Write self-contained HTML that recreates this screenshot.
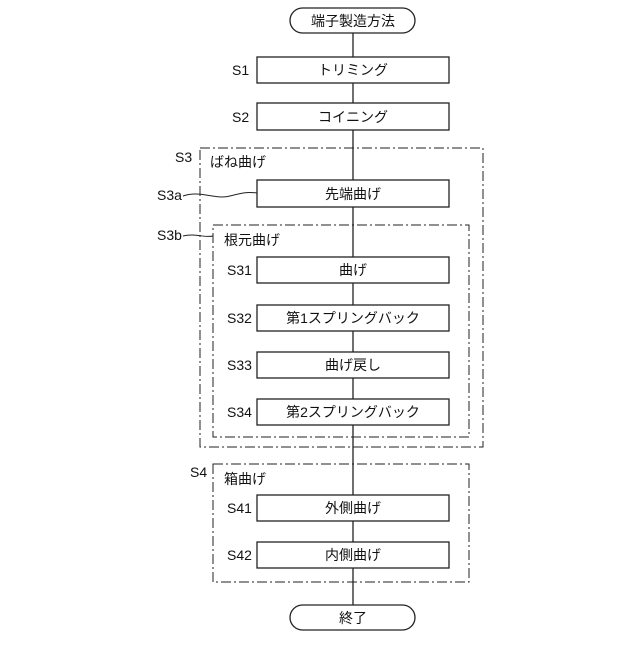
<!DOCTYPE html>
<html><head><meta charset="utf-8"><style>
body{margin:0;background:#fff}
svg text{font-family:"Liberation Sans","Noto Sans CJK JP",sans-serif;font-size:14px;fill:#111}
</style></head><body>
<svg width="640" height="640" viewBox="0 0 640 640" xmlns="http://www.w3.org/2000/svg">
<g stroke="#222" stroke-width="1.3" fill="none">
<line x1="353" y1="33" x2="353" y2="605"/>
<rect x="290" y="8" width="125" height="25" rx="12.5" fill="#fff"/>
<rect x="290" y="605" width="125" height="25" rx="12.5" fill="#fff"/>
<g fill="#fff">
<rect x="257" y="57" width="192" height="26"/>
<rect x="257" y="103" width="192" height="27"/>
<rect x="257" y="180" width="192" height="27"/>
<rect x="257" y="257" width="192" height="26"/>
<rect x="257" y="305" width="192" height="26"/>
<rect x="257" y="352" width="192" height="26"/>
<rect x="257" y="399" width="192" height="26"/>
<rect x="257" y="495" width="192" height="26"/>
<rect x="257" y="542" width="192" height="26"/>
</g>
<g stroke-dasharray="10,3,2,3" stroke-width="1">
<rect x="200" y="148" width="283" height="299"/>
<rect x="213" y="225" width="256" height="212"/>
<rect x="213" y="464" width="256" height="118"/>
</g>
<path d="M183 196 C200 190,215 200,230 196 S250 192,257 193" stroke-width="1"/>
<path d="M183 236 C195 233,205 238,213 236" stroke-width="1"/>
</g>
<g text-anchor="middle">
<text x="353" y="26">端子製造方法</text>
<text x="353" y="75">トリミング</text>
<text x="353" y="122">コイニング</text>
<text x="353" y="199">先端曲げ</text>
<text x="353" y="275">曲げ</text>
<text x="353" y="323">第1スプリングバック</text>
<text x="353" y="370">曲げ戻し</text>
<text x="353" y="417">第2スプリングバック</text>
<text x="353" y="513">外側曲げ</text>
<text x="353" y="560">内側曲げ</text>
<text x="353" y="623">終了</text>
</g>
<text x="232" y="75">S1</text>
<text x="232" y="122">S2</text>
<text x="175" y="162">S3</text>
<text x="210" y="167">ばね曲げ</text>
<text x="157" y="200">S3a</text>
<text x="157" y="240">S3b</text>
<text x="224" y="245">根元曲げ</text>
<text x="227" y="275">S31</text>
<text x="227" y="323">S32</text>
<text x="227" y="370">S33</text>
<text x="227" y="417">S34</text>
<text x="190" y="477">S4</text>
<text x="224" y="484">箱曲げ</text>
<text x="227" y="513">S41</text>
<text x="227" y="560">S42</text>
</svg>
</body></html>
